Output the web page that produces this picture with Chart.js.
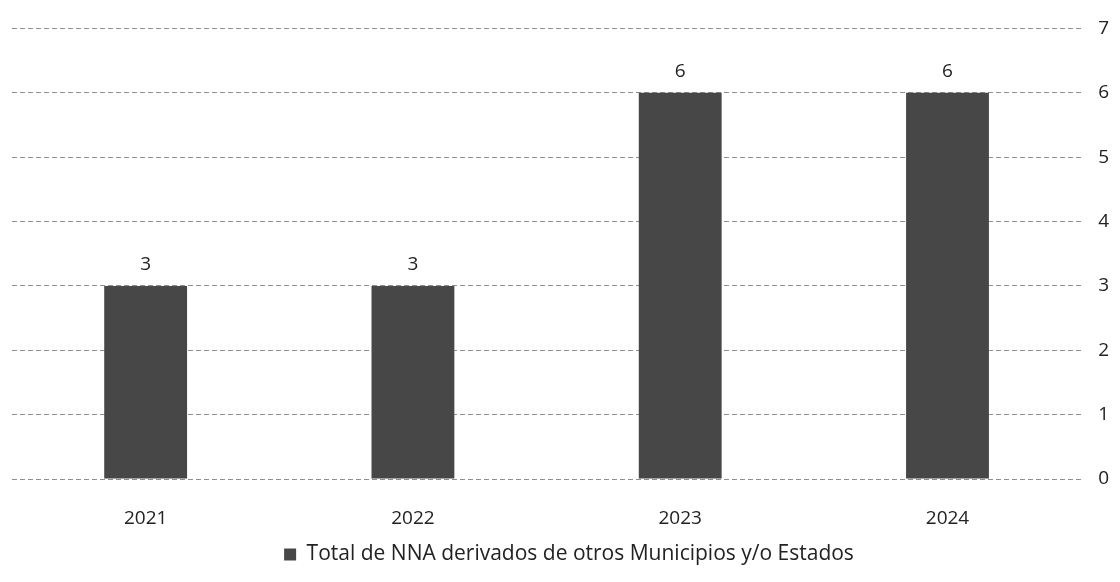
<!DOCTYPE html>
<html><head><meta charset="utf-8">
<script src="https://cdn.jsdelivr.net/npm/chart.js@4/dist/chart.umd.min.js"></script>
<style>html,body{margin:0;padding:0;background:#fff}#wrap{width:1120px;height:582px}</style>
</head><body><div id="wrap"><canvas id="c" width="1120" height="582"></canvas></div>
<script>
const categories = ["2021", "2022", "2023", "2024"];
const seriesName = "Total de NNA derivados de otros Municipios y/o Estados";
const seriesValues = [3, 3, 6, 6];
const yTicks = [0, 1, 2, 3, 4, 5, 6, 7];

const valueLabels = {
  id: 'valueLabels',
  afterDatasetsDraw(chart) {
    const ctx = chart.ctx;
    const meta = chart.getDatasetMeta(0);
    ctx.save();
    ctx.font = '19px "Open Sans"';
    ctx.fillStyle = '#222';
    ctx.textAlign = 'center';
    ctx.textBaseline = 'bottom';
    meta.data.forEach((bar, i) => {
      ctx.fillText(String(seriesValues[i]), bar.x, bar.y - 12);
    });
    ctx.restore();
  }
};

new Chart(document.getElementById('c'), {
  type: 'bar',
  data: {
    labels: categories,
    datasets: [{
      label: seriesName,
      data: seriesValues,
      backgroundColor: '#474747',
      barPercentage: 0.31,
      categoryPercentage: 1.0
    }]
  },
  options: {
    responsive: false,
    animation: false,
    layout: { padding: { left: 12, right: -6, top: 16, bottom: 7 } },
    plugins: {
      legend: {
        position: 'bottom',
        labels: {
          font: { family: 'Open Sans', size: 21 },
          color: '#222',
          boxWidth: 12, boxHeight: 12, padding: 6
        }
      },
      tooltip: { enabled: false }
    },
    scales: {
      x: {
        grid: { display: false },
        border: { display: false },
        ticks: { font: { family: 'Open Sans', size: 19 }, color: '#222', padding: 20 },
        afterFit: (axis) => { axis.height = 59; }
      },
      y: {
        position: 'right',
        min: 0, max: 7,
        afterBuildTicks: (axis) => { axis.ticks = yTicks.map(v => ({ value: v })); },
        grid: { color: '#8f8f8f', lineWidth: 1, drawTicks: false },
        border: { display: false, dash: [5, 3] },
        ticks: { font: { family: 'Open Sans', size: 19 }, color: '#222', padding: 17 }
      }
    }
  },
  plugins: [valueLabels]
});
</script>
</body></html>
